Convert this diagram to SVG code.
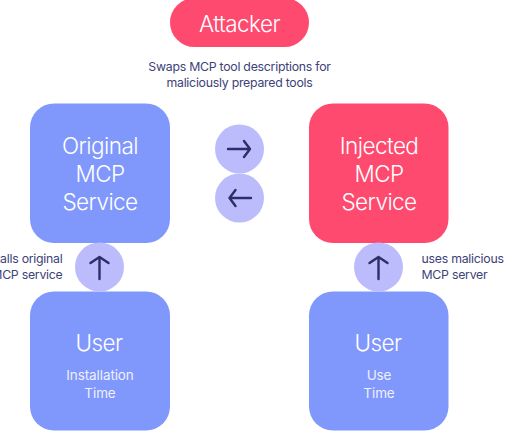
<svg xmlns="http://www.w3.org/2000/svg" width="530" height="442" viewBox="0 0 530 442">
<style>
text{font-family:Inter,"Liberation Sans",sans-serif;text-anchor:middle;fill:#fff;font-weight:300}
.t{font-size:22.500px;letter-spacing:-.55px}
.s{font-size:13.500px;fill:#eef0ff;font-weight:400;letter-spacing:-.1px}
.c{font-size:12.300px;fill:#3d4278;letter-spacing:-.25px;font-weight:400}
.blue{fill:#8098fb}.red{fill:#ff4a6f}.circ{fill:#bcbcfd}
.ar{fill:none;stroke:#2a2f66;stroke-width:2.4;stroke-linecap:round;stroke-linejoin:round}
</style>
<rect width="530" height="442" fill="#fff"/>
<g id="attacker"><rect class="red" x="170" y="-2" width="139" height="49" rx="24.500"/><text class="t" x="239.500" y="32">Attacker</text></g>
<g id="swap-label"><text class="c" x="239.500" y="71">Swaps MCP tool descriptions for</text><text class="c" x="239.500" y="87">maliciously prepared tools</text></g>
<g id="original"><rect class="blue" x="30" y="103.500" width="140" height="139.500" rx="24"/><text class="t" x="100" y="154">Original</text><text class="t" x="100" y="182">MCP</text><text class="t" x="100" y="210">Service</text></g>
<g id="injected"><rect class="red" x="309" y="103.500" width="139.500" height="139.500" rx="24"/><text class="t" x="379" y="154">Injected</text><text class="t" x="379" y="182">MCP</text><text class="t" x="379" y="210">Service</text></g>
<g id="user-install"><rect class="blue" x="30" y="291.500" width="140" height="139" rx="24"/><text class="t" x="99" y="351">User</text><text class="s" x="100" y="380">Installation</text><text class="s" x="100" y="398">Time</text></g>
<g id="user-use"><rect class="blue" x="309" y="291.500" width="139.500" height="139" rx="24"/><text class="t" x="378" y="351">User</text><text class="s" x="379" y="380">Use</text><text class="s" x="379" y="398">Time</text></g>
<g id="connectors">
<circle class="circ" cx="239.500" cy="149" r="24.500"/><path class="ar" d="M228 149H250M244 141L250 149L244 157"/>
<circle class="circ" cx="239.500" cy="198" r="24.500"/><path class="ar" d="M251 198H229.500M235.500 190L229.500 198L235.500 206"/>
<circle class="circ" cx="99.500" cy="267" r="24.500"/><path class="ar" d="M99.500 279V257M90.500 263L99.500 257L108.500 263"/>
<circle class="circ" cx="378.500" cy="267" r="24.500"/><path class="ar" d="M378.500 279V257M369.500 263L378.500 257L387.500 263"/>
</g>
<g id="labels"><text class="c" x="62.500" y="263" style="text-anchor:end">Installs original</text><text class="c" x="62.500" y="279" style="text-anchor:end">MCP service</text><text class="c" x="421.500" y="263" style="text-anchor:start">uses malicious</text><text class="c" x="421.500" y="279" style="text-anchor:start">MCP server</text></g>
</svg>
